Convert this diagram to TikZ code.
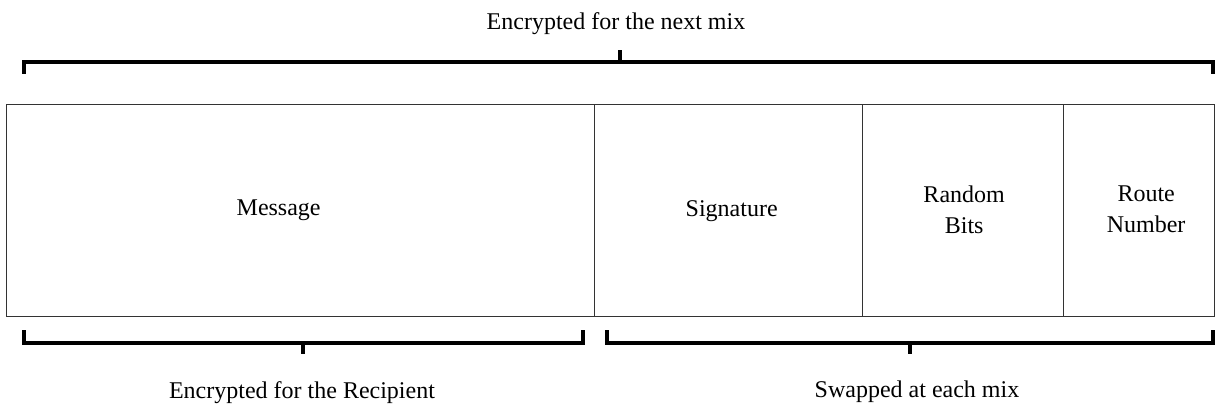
\documentclass[tikz,border=0pt]{standalone}
\usepackage{fontspec}
\setmainfont{Liberation Serif}
\begin{document}
\begin{tikzpicture}[x=1pt,y=-1pt,
  cell/.style={draw=black!80,line width=1.3pt,anchor=north west,inner sep=0pt,
    minimum height=212pt},
  txt/.style={inner sep=0pt,align=center,font=\fontsize{24}{31}\selectfont},
  lbl/.style={anchor=base,inner sep=0pt,font=\fontsize{24}{31}\selectfont},
  brace/.style={line width=4pt,black,line cap=butt,line join=miter}]
\useasboundingbox (0,0) rectangle (1215,406);
\node[cell,minimum width=588pt] (msg) at (6,104) {};
\node[cell,minimum width=268pt] (sig) at (594,104) {};
\node[cell,minimum width=201pt] (rnd) at (862,104) {};
\node[cell,minimum width=151pt] (rte) at (1063,104) {};
\node[txt] (tmsg) at ([xshift=-22pt]msg.center) {Message};
\node[txt] (tsig) at ([xshift=3pt]sig.center) {Signature};
\node[txt] (trnd) at ([xshift=1pt,yshift=1pt]rnd.center) {Random\\Bits};
\node[txt] (trte) at ([xshift=7pt,yshift=1pt]rte.center) {Route\\Number};
\node[lbl] (top) at (616,30) {Encrypted for the next mix};
\node[lbl] (bl) at (302,398) {Encrypted for the Recipient};
\node[lbl] (br) at (917,397) {Swapped at each mix};
% top bracket
\draw[brace] (24,74) -- (24,62) -- (1213,62) -- (1213,74);
\draw[brace] (620,62) -- (620,50);
% bottom left bracket
\draw[brace] (24,330) -- (24,343) -- (583,343) -- (583,330);
\draw[brace] (303,343) -- (303,354);
% bottom right bracket
\draw[brace] (607,330) -- (607,343) -- (1213,343) -- (1213,330);
\draw[brace] (910,343) -- (910,354);
\end{tikzpicture}
\end{document}
